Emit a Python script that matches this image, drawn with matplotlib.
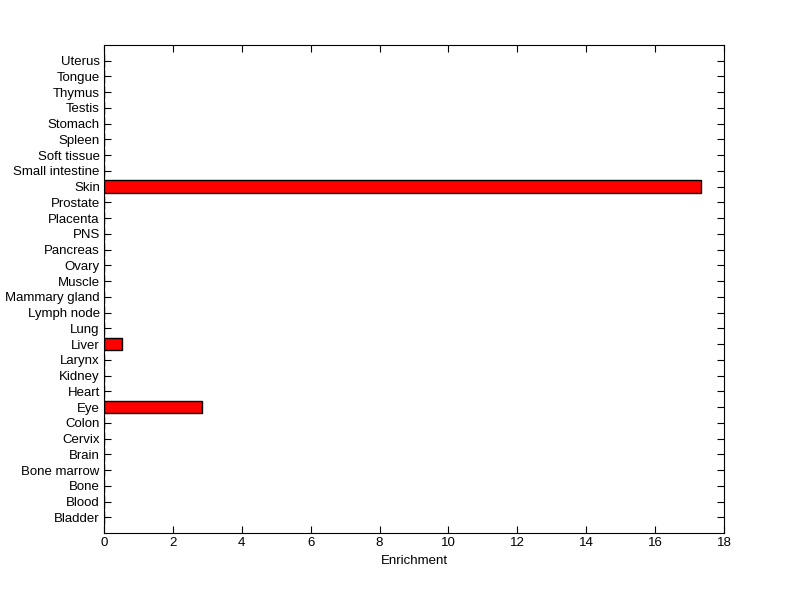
import numpy as np
import matplotlib
matplotlib.use("Agg")
import matplotlib.pyplot as plt

# tissues, bottom to top
tissues = ["Bladder", "Blood", "Bone", "Bone marrow", "Brain", "Cervix", "Colon",
           "Eye", "Heart", "Kidney", "Larynx", "Liver", "Lung", "Lymph node",
           "Mammary gland", "Muscle", "Ovary", "Pancreas", "PNS", "Placenta",
           "Prostate", "Skin", "Small intestine", "Soft tissue", "Spleen",
           "Stomach", "Testis", "Thymus", "Tongue", "Uterus"]
enrichment = [0, 0, 0, 0, 0, 0, 0,
              2.84, 0, 0, 0, 0.51, 0, 0,
              0, 0, 0, 0, 0, 0,
              0, 17.33, 0, 0, 0,
              0, 0, 0, 0, 0]

plt.rcParams['font.family'] = ['Liberation Sans', 'DejaVu Sans']

fig = plt.figure(figsize=(8, 5.99), dpi=100)
ax = fig.add_axes([0.13, 0.11, 0.775, 0.815])

y = np.arange(1, len(tissues) + 1)
ax.barh(y, enrichment, height=0.8, color='red', edgecolor='black', linewidth=1.0, zorder=3)

ax.set_xlim(0, 18)
ax.set_ylim(0, len(tissues) + 1)
ax.set_xticks(np.arange(0, 19, 2))
ax.set_yticks(y)
ax.set_yticklabels(tissues)
ax.tick_params(direction='in', top=True, right=True, labelsize=9.5, length=5, width=0.8, pad=3)
for s in ax.spines.values():
    s.set_linewidth(0.8)
    s.set_zorder(4)
ax.set_xlabel("Enrichment", fontsize=9.5, labelpad=4)

fig.savefig("out.png", dpi=100, facecolor='white')
